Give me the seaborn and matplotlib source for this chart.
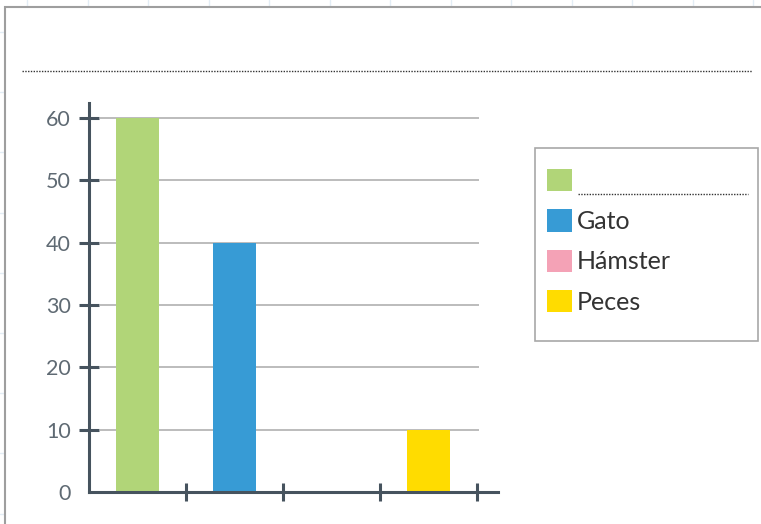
import numpy as np
import pandas as pd
import matplotlib
matplotlib.use('Agg')
import matplotlib.pyplot as plt
import seaborn as sns
from matplotlib.patches import Patch, Rectangle

# datos del gráfico
categorias = ['', 'Gato', 'Hámster', 'Peces']
valores = [60, 40, 0, 10]
colores = ['#b1d578', '#379bd5', '#f4a2b6', '#ffdc00']
marcas_y = [0, 10, 20, 30, 40, 50, 60]

sns.set_theme(style='white')
plt.rcParams['font.family'] = ['Lato', 'DejaVu Sans']

eje_color = '#46535e'

fig = plt.figure(figsize=(7.61, 5.24), dpi=100)

# fondo tipo hoja de cálculo (coordenadas en píxeles)
bg = fig.add_axes([0, 0, 1, 1], zorder=-10)
bg.set_xlim(0, 761)
bg.set_ylim(524, 0)
bg.axis('off')
for x in np.arange(27, 761, 60.5):
    bg.plot([x, x], [0, 524], color='#e3edf5', lw=1, zorder=1)
for y in np.arange(32, 524, 60.2):
    bg.plot([0, 761], [y, y], color='#e3edf5', lw=1, zorder=1)
bg.add_patch(Rectangle((5, 7), 800, 600, facecolor='white', edgecolor='#9e9e9e', lw=1.5, zorder=3))
# línea punteada del título vacío
bg.plot([22, 752], [70.5, 70.5], color='#333333', lw=1, ls=(0, (1, 1)), zorder=5)
# marco de la leyenda
bg.add_patch(Rectangle((535, 148), 223, 193, facecolor='white', edgecolor='#a8a8a8', lw=1.2, zorder=4))
bg.plot([578, 748], [194, 194], color='#333333', lw=1, ls=(0, (1, 1)), zorder=5)

# gráfico de barras
ax = fig.add_axes([89 / 761, 1 - 492 / 524, 409 / 761, 389 / 524])
ax.patch.set_alpha(0)
df = pd.DataFrame({'animal': categorias, 'cantidad': valores})
sns.barplot(data=df, x='animal', y='cantidad', hue='animal', palette=colores,
            width=0.44, saturation=1, legend=False, ax=ax, zorder=2, linewidth=0)

ax.set_xlim(-0.5, 3.716)
ax.set_ylim(0, 62.4)
ax.set_xlabel('')
ax.set_ylabel('')
ax.set_xticks([0.5, 1.5, 2.5, 3.5])
ax.set_xticklabels([])
ax.set_yticks(marcas_y)
ax.hlines(marcas_y[1:], 11 / 409, 390 / 409, transform=ax.get_yaxis_transform(),
          color='#a9a9a9', lw=1.1, zorder=1)

ax.tick_params(axis='y', direction='inout', length=14.4, width=2.2, color=eje_color,
               labelsize=15.5, labelcolor='#5f6a73', pad=6, left=True)
ax.tick_params(axis='x', direction='inout', length=13, width=2.2, color=eje_color, bottom=True)
ax.yaxis.get_major_ticks()[0].tick1line.set_visible(False)
for lado in ['top', 'right']:
    ax.spines[lado].set_visible(False)
for lado in ['left', 'bottom']:
    ax.spines[lado].set_color(eje_color)
    ax.spines[lado].set_linewidth(2.2)
    ax.spines[lado].set_zorder(3)

# leyenda
manejadores = [Patch(facecolor=c, edgecolor='none') for c in colores]
fig.legend(handles=manejadores, labels=categorias, loc='upper left',
           bbox_to_anchor=(547 / 761, 1 - 169 / 524), frameon=False, fontsize=18,
           handlelength=1.0, handleheight=1.0, handletextpad=0.2, labelspacing=0.66,
           borderpad=0, borderaxespad=0, labelcolor='#333333')

fig.savefig('out.png', dpi=100)
